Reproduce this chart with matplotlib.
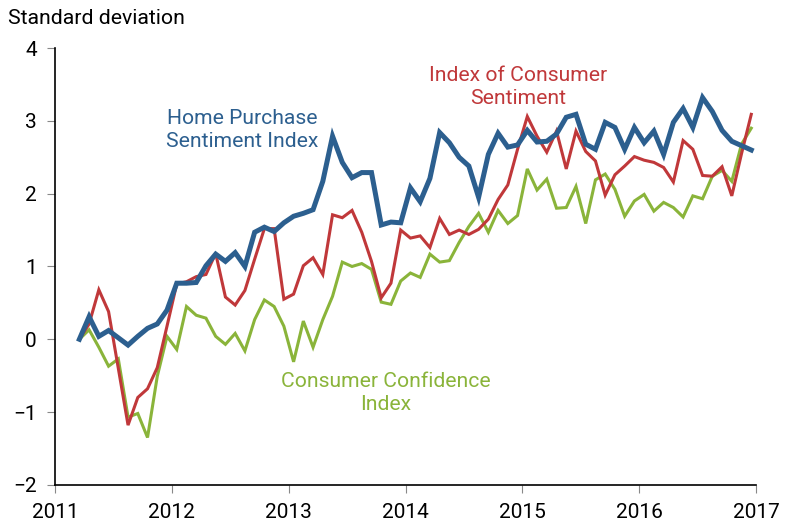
import numpy as np
import pandas as pd
import matplotlib
matplotlib.use("Agg")
import matplotlib.pyplot as plt

plt.rcParams["font.family"] = ["Roboto", "DejaVu Sans"]

# monthly readings, Mar 2011 - Dec 2016 (standard deviations from Mar 2011)
dates = pd.date_range("2011-03-01", "2016-12-01", freq="MS")

hpsi = [
    0.00, 0.31, 0.04, 0.12, 0.02, -0.08, 0.04, 0.15, 0.21, 0.40,
    0.77, 0.77, 0.78, 1.01, 1.17, 1.07, 1.19, 1.00, 1.47, 1.54, 1.48, 1.60,
    1.69, 1.73, 1.78, 2.17, 2.79, 2.43, 2.22, 2.29, 2.29, 1.57, 1.61, 1.60,
    2.08, 1.89, 2.21, 2.84, 2.70, 2.50, 2.38, 1.95, 2.54, 2.83, 2.64, 2.67,
    2.87, 2.71, 2.72, 2.82, 3.05, 3.09, 2.68, 2.61, 2.98, 2.91, 2.61, 2.91,
    2.70, 2.86, 2.54, 2.98, 3.17, 2.91, 3.32, 3.13, 2.87, 2.72, 2.66, 2.60,
]
ics = [
    0.00, 0.21, 0.68, 0.38, -0.40, -1.18, -0.80, -0.68, -0.39, 0.18,
    0.76, 0.79, 0.86, 0.89, 1.18, 0.58, 0.47, 0.67, 1.10, 1.52, 1.52, 0.55,
    0.62, 1.01, 1.12, 0.89, 1.71, 1.67, 1.77, 1.47, 1.07, 0.57, 0.77, 1.50,
    1.39, 1.42, 1.26, 1.66, 1.44, 1.50, 1.44, 1.51, 1.65, 1.92, 2.12, 2.61,
    3.06, 2.79, 2.57, 2.86, 2.34, 2.86, 2.58, 2.45, 1.98, 2.26, 2.38, 2.51,
    2.46, 2.43, 2.36, 2.16, 2.73, 2.61, 2.25, 2.24, 2.37, 1.97, 2.55, 3.09,
]
cci = [
    0.00, 0.13, -0.11, -0.37, -0.27, -1.07, -1.02, -1.35, -0.51, 0.04,
    -0.14, 0.45, 0.33, 0.29, 0.04, -0.07, 0.08, -0.16, 0.27, 0.54, 0.45, 0.18,
    -0.31, 0.25, -0.11, 0.27, 0.59, 1.06, 1.00, 1.04, 0.96, 0.51, 0.48, 0.80,
    0.91, 0.85, 1.17, 1.06, 1.08, 1.33, 1.55, 1.73, 1.47, 1.77, 1.59, 1.70,
    2.34, 2.05, 2.20, 1.80, 1.81, 2.10, 1.59, 2.19, 2.27, 2.06, 1.69, 1.90,
    1.99, 1.76, 1.88, 1.81, 1.68, 1.97, 1.93, 2.24, 2.32, 2.17, 2.68, 2.90,
]

years = list(range(2011, 2018))
yticks = [-2, -1, 0, 1, 2, 3, 4]

BLUE = "#2c5f8f"
RED = "#c0383a"
GREEN = "#8ab43a"

# plot each month at mid-month on a fractional-year axis
x = dates.year + (dates.month - 0.5) / 12

fig = plt.figure(figsize=(7.86, 5.23), dpi=100)
ax = fig.add_axes([0.070, 0.073, 0.892, 0.835])

ax.plot(x, cci, color=GREEN, lw=2.2, solid_joinstyle="miter")
ax.plot(x, ics, color=RED, lw=2.2, solid_joinstyle="miter")
ax.plot(x, hpsi, color=BLUE, lw=3.6, solid_joinstyle="miter")

ax.set_xlim(years[0], years[-1])
ax.set_ylim(yticks[0], yticks[-1])
ax.set_xticks(years)
ax.set_yticks(yticks)
ax.tick_params(axis="both", labelsize=15, length=6, color="#888888")
ax.tick_params(axis="y", pad=7)
ax.tick_params(axis="x", pad=7)

for side in ("top", "right"):
    ax.spines[side].set_visible(False)
for side in ("left", "bottom"):
    ax.spines[side].set_color("black")
    ax.spines[side].set_linewidth(1.2)

# series labels
ax.text(2012.6, 2.87, "Home Purchase\nSentiment Index", color=BLUE,
        fontsize=15.2, ha="center", va="center", linespacing=1.25)
ax.text(2014.96, 3.47, "Index of Consumer\nSentiment", color=RED,
        fontsize=15.2, ha="center", va="center", linespacing=1.25)
ax.text(2013.83, -0.74, "Consumer Confidence\nIndex", color=GREEN,
        fontsize=15.2, ha="center", va="center", linespacing=1.25)

fig.text(0.01, 0.965, "Standard deviation", fontsize=15.3, ha="left", va="center")

fig.savefig("out.png", dpi=100)
